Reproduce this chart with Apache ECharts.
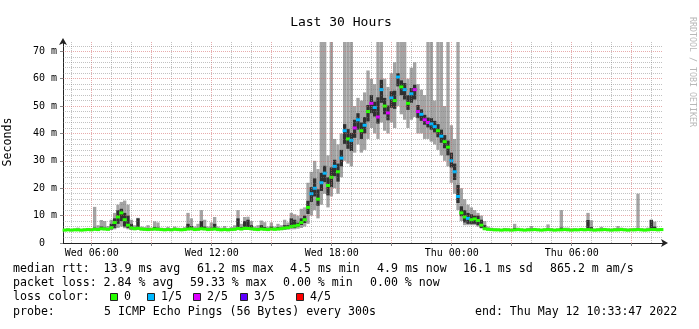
<!DOCTYPE html>
<html><head><meta charset="utf-8">
<script src="https://cdn.jsdelivr.net/npm/echarts@6/dist/echarts.min.js"></script>
<style>html,body{margin:0;padding:0;background:#fff}#c{width:699px;height:329px}</style>
</head><body><div id="c"></div>
<script>
// time in hours since Wed 00:00; graph ends Thu 10:33:47 (= 34.563 h), spans 30 h
const START_H = 4 + 33 / 60 + 47 / 3600;
const SPAN_H = 30;
const BIN_H = 1 / 6; // 10-minute bins

// median rtt per bin (ms)
const median = [
 4.7,4.8,4.7,4.8,4.8,4.7,4.8,4.9,4.8,5.0,
 4.9,5.2,5.1,5.0,5.6,7.5,9.5,11.0,8.5,6.5,
 5.5,5.2,5.4,5.1,5.0,4.9,5.0,5.1,5.0,4.9,
 4.8,4.9,4.8,5.0,4.9,4.8,4.9,5.1,5.2,4.9,
 5.0,5.2,5.1,4.9,5.0,5.1,4.9,4.8,4.9,4.8,
 4.9,5.0,5.3,5.1,5.4,5.3,5.2,5.0,4.9,5.1,
 5.0,4.9,5.1,5.0,5.1,5.2,5.5,5.6,6.0,6.2,
 6.5,7.5,8.5,13.0,18.0,20.0,16.0,22.0,25.5,21.0,
 24.0,28.0,26.0,31.0,41.0,38.0,37.5,42.0,45.0,41.0,
 43.0,48.0,51.0,49.5,46.0,56.0,50.0,47.5,53.0,52.0,
 60.6,57.0,56.0,51.0,54.5,56.0,48.0,47.0,45.0,44.0,
 43.5,42.5,41.0,39.0,37.0,35.0,30.0,26.0,17.0,11.0,
 9.5,9.0,8.5,8.8,8.2,6.5,5.2,5.0,4.9,4.8,
 4.8,4.7,4.8,4.8,4.7,4.8,4.9,4.8,4.7,4.8,
 4.8,4.9,4.8,4.7,4.8,4.9,4.8,4.7,4.8,4.8,
 4.9,4.8,4.7,4.8,4.8,4.9,4.8,4.9,4.8,4.7,
 4.8,4.8,4.9,4.8,4.7,4.8,4.8,4.9,4.8,4.7,
 4.8,4.8,4.9,4.8,4.7,4.8,4.9,4.9,4.8,4.9
];
// outer smoke (min / max ping, ms); 80 = beyond the top of the graph
const smokeMin = [
 4.5,4.5,4.5,4.6,4.5,4.5,4.6,4.6,4.5,4.6,
 4.6,4.7,4.7,4.6,4.8,5.0,5.5,6.0,5.4,5.0,
 4.8,4.7,4.8,4.6,4.6,4.5,4.6,4.6,4.6,4.5,
 4.5,4.6,4.5,4.6,4.6,4.5,4.6,4.7,4.7,4.6,
 4.6,4.7,4.7,4.6,4.6,4.7,4.6,4.5,4.6,4.5,
 4.6,4.6,4.7,4.7,4.8,4.8,4.7,4.6,4.6,4.7,
 4.6,4.6,4.7,4.6,4.7,4.7,4.8,4.9,5.0,5.0,
 5.2,5.5,6.0,7.0,10.0,12.0,9.0,14.0,18.0,13.0,
 17.0,20.0,18.0,24.0,30.0,29.0,28.0,33.0,36.0,33.0,
 34.0,38.0,42.0,40.0,38.0,44.0,41.0,40.0,44.0,42.0,
 50.0,47.0,45.0,42.0,45.0,46.0,40.0,40.0,38.0,38.0,
 37.0,36.0,34.0,32.0,30.0,28.0,22.0,18.0,12.0,8.0,
 6.5,6.5,6.5,6.5,6.0,5.3,4.8,4.6,4.6,4.5,
 4.5,4.5,4.5,4.6,4.5,4.5,4.6,4.5,4.5,4.5,
 4.5,4.6,4.5,4.5,4.5,4.6,4.5,4.5,4.5,4.5,
 4.6,4.5,4.5,4.5,4.5,4.6,4.5,4.6,4.5,4.5,
 4.5,4.5,4.6,4.5,4.5,4.5,4.5,4.6,4.5,4.5,
 4.5,4.5,4.6,4.5,4.5,4.5,4.6,4.6,4.5,4.6
];
const smokeMax = [
 5.2,5.4,5.1,5.3,5.6,5.2,5.3,5.5,5.4,13.2,
 6.5,8.4,8.0,6.2,8.5,11.0,14.0,15.0,15.5,14.0,
 8.5,6.5,9.2,6.0,5.8,6.5,5.6,7.9,7.5,5.6,
 5.5,5.9,5.4,6.0,5.6,5.5,5.8,11.0,9.0,6.0,
 7.0,12.0,8.5,6.0,7.5,9.5,6.0,5.6,6.2,5.5,
 5.8,6.5,12.0,7.0,9.5,9.6,8.0,6.0,6.5,8.2,
 7.6,6.0,7.5,6.0,7.0,6.5,8.5,7.5,11.0,10.5,
 10.0,12.5,13.0,22.0,26.0,30.0,27.0,80,80,32.0,
 80,38.0,36.0,40.0,80,80,80,50.0,53.0,52.0,
 55.0,63.0,60.0,58.0,80,80,60.0,57.0,62.0,66.0,
 80,80,80,60.0,64.0,66.0,58.0,56.0,54.0,80,
 80,52.0,80,80,50.0,80,43.0,38.0,80,20.0,
 16.0,14.0,13.0,12.0,11.0,10.0,8.0,6.0,5.6,5.4,
 5.3,5.2,5.5,5.4,5.2,7.0,5.6,5.3,5.2,5.5,
 6.2,5.5,5.3,5.2,5.4,6.8,5.4,5.2,5.3,12.0,
 5.6,5.6,5.3,5.4,5.2,5.5,5.4,11.0,8.3,5.3,
 5.4,5.9,5.5,5.3,5.2,5.5,6.2,5.6,5.4,5.3,
 5.3,5.5,18.0,5.4,5.3,5.6,8.6,7.8,5.5,5.4
];
// inner (dense) smoke, ms
const coreLow = [
 4.6,4.6,4.6,4.7,4.6,4.6,4.7,4.7,4.6,4.8,
 4.7,4.9,4.8,4.8,5.0,5.5,7.0,8.0,6.0,5.5,
 5.0,4.9,5.0,4.8,4.7,4.7,4.8,4.8,4.8,4.7,
 4.6,4.7,4.6,4.8,4.7,4.6,4.7,4.8,4.9,4.7,
 4.8,4.9,4.8,4.7,4.8,4.8,4.7,4.6,4.7,4.6,
 4.7,4.8,4.9,4.8,5.0,5.0,4.9,4.8,4.7,4.8,
 4.8,4.7,4.8,4.8,4.8,4.9,5.0,5.1,5.5,5.5,
 6.0,6.6,7.3,10.6,15.0,17.0,13.6,19.0,22.2,17.4,
 20.4,24.4,22.4,28.0,36.2,34.4,33.6,38.4,41.4,38.0,
 40.0,44.4,47.4,46.2,43.6,51.2,47.0,44.8,49.4,49.0,
 57.2,54.0,52.4,48.6,51.2,52.4,45.6,44.6,43.2,42.2,
 41.4,40.4,38.6,36.6,34.6,32.0,27.6,23.0,14.6,9.8,
 7.5,7.0,7.0,7.0,6.5,5.5,5.0,4.7,4.7,4.6,
 4.6,4.6,4.6,4.7,4.6,4.6,4.7,4.6,4.6,4.6,
 4.6,4.7,4.6,4.6,4.6,4.7,4.6,4.6,4.6,4.7,
 4.7,4.6,4.6,4.6,4.6,4.7,4.6,4.7,4.6,4.6,
 4.6,4.6,4.7,4.6,4.6,4.6,4.6,4.7,4.6,4.6,
 4.6,4.6,4.7,4.6,4.6,4.6,4.7,4.7,4.6,4.7
];
const coreHigh = [
 4.9,5.0,4.9,5.0,5.1,4.9,5.0,5.1,5.0,5.6,
 5.2,6.0,5.6,5.3,7.0,9.0,12.0,12.5,11.0,10.0,
 7.0,5.6,9.0,5.4,5.2,5.4,5.2,5.8,5.6,5.1,
 5.0,5.1,5.0,5.3,5.1,5.0,5.1,7.0,6.2,5.2,
 5.5,8.0,6.0,5.2,5.6,7.0,5.2,5.0,5.2,5.0,
 5.1,5.4,9.0,5.8,8.0,8.5,6.5,5.3,5.4,6.5,
 5.8,5.2,6.0,5.3,5.8,5.6,6.5,6.5,9.0,8.5,
 7.4,9.0,10.0,15.4,20.4,23.6,19.6,25.6,28.2,24.0,
 27.6,30.4,29.0,34.0,43.4,41.6,40.2,45.0,47.4,44.0,
 46.0,50.4,54.0,51.6,53.2,59.6,53.0,50.2,55.4,55.6,
 62.0,59.4,58.4,54.0,56.6,57.8,50.4,48.8,46.8,45.8,
 45.6,44.6,43.4,41.4,39.4,37.4,33.0,29.0,21.2,13.4,
 12.0,11.0,10.5,10.0,10.0,8.5,6.5,5.3,5.1,5.0,
 5.0,4.9,5.0,5.0,4.9,5.5,5.1,5.0,4.9,5.0,
 5.2,5.1,5.0,4.9,5.0,5.3,5.0,4.9,5.0,5.6,
 5.0,5.0,4.9,5.0,4.9,5.1,5.0,8.4,5.8,4.9,
 5.0,5.2,5.1,5.0,4.9,5.0,5.2,5.1,5.0,4.9,
 5.0,5.1,5.3,5.0,4.9,5.1,8.4,6.0,5.0,5.1
];
// lost pings per bin (out of 5)
const lostPings = [
 0,0,0,0,0,0,0,0,0,0,
 0,0,0,0,0,0,0,0,0,0,
 0,0,0,0,0,0,0,0,0,0,
 0,0,0,0,0,0,0,0,0,0,
 0,0,0,0,0,0,0,0,0,0,
 0,0,0,0,0,0,0,0,0,0,
 0,0,0,0,0,0,0,0,0,0,
 0,0,0,0,1,1,0,1,1,0,
 0,1,0,1,1,0,1,2,1,0,
 1,0,2,1,2,1,0,2,1,0,
 1,0,1,0,1,2,2,1,2,2,
 1,1,0,1,0,0,1,1,1,0,
 0,1,0,0,0,0,0,0,0,0,
 0,0,0,0,0,0,0,0,0,0,
 0,0,0,0,0,0,0,0,0,0,
 0,0,0,0,0,0,0,0,0,0,
 0,0,0,0,0,0,0,0,0,0,
 0,0,0,0,0,0,0,0,0,0
];
const lossColors = ['#26ff00', '#00b8ff', '#dd00ff', '#5e00ff', '#ff0000'];
const lossLabels = ['0', '1/5', '2/5', '3/5', '4/5'];

const xTickHours = [6, 12, 18, 24, 30];
const xTickLabels = ['Wed 06:00', 'Wed 12:00', 'Wed 18:00', 'Thu 00:00', 'Thu 06:00'];
const xMajorHours = [6, 9, 12, 15, 18, 21, 24, 27, 30, 33];
const xMinorHours = [5, 7, 8, 10, 11, 13, 14, 16, 17, 19, 20, 22, 23, 25, 26, 28, 29, 31, 32, 34];
const yTicks = [0, 10, 20, 30, 40, 50, 60, 70];
const yMinor = [2, 4, 6, 8, 12, 14, 16, 18, 22, 24, 26, 28, 32, 34, 36, 38, 42, 44, 46, 48, 52, 54, 56, 58, 62, 64, 66, 68, 72];
const Y_MAX = 73.4;

const title = 'Last 30 Hours';
const yName = 'Seconds';
const statsRtt = [['median rtt:  13.9 ms avg', 13], ['61.2 ms max', 197], ['4.5 ms min', 290], ['4.9 ms now', 377], ['16.1 ms sd', 463], ['865.2 m am/s', 550]];
const statsLoss = [['packet loss: 2.84 % avg', 13], ['59.33 % max', 190], ['0.00 % min', 283], ['0.00 % now', 370]];
const lossRowLabel = 'loss color:';
const probeLabel = 'probe:';
const probeText = '5 ICMP Echo Pings (56 Bytes) every 300s';
const endText = 'end: Thu May 12 10:33:47 2022';
const watermark = 'RRDTOOL / TOBI OETIKER';

const MONO = 'DejaVu Sans Mono';
const LEG_FONT = '11.58px "' + MONO + '"';
const binTime = i => START_H + (i + 0.5) * BIN_H;
const smokeOuter = smokeMin.map((v, i) => [binTime(i), v, smokeMax[i]]);
const smokeInner = coreLow.map((v, i) => [binTime(i), v, coreHigh[i]]);
const medianData = median.map((v, i) => [binTime(i), v, lostPings[i]]);

function bandRenderer(color) {
  return function (params, api) {
    const t = api.value(0), lo = api.value(1), hi = api.value(2);
    const p1 = api.coord([t - BIN_H / 2, hi]);
    const p2 = api.coord([t + BIN_H / 2, lo]);
    const cs = params.coordSys;
    const shape = echarts.graphic.clipRectByRect(
      { x: p1[0], y: p1[1], width: p2[0] - p1[0], height: p2[1] - p1[1] },
      { x: cs.x, y: cs.y, width: cs.width, height: cs.height });
    return shape ? { type: 'rect', shape: shape, style: { fill: color } } : null;
  };
}

const gridLines = [];
const minorStyle = { color: 'rgba(120,120,120,0.45)', type: 'dotted', width: 1 };
const majorStyle = { color: 'rgba(210,90,90,0.5)', type: 'dotted', width: 1 };
xMinorHours.forEach(h => gridLines.push({ xAxis: h, lineStyle: minorStyle }));
xMajorHours.forEach(h => gridLines.push({ xAxis: h, lineStyle: majorStyle }));
yMinor.forEach(v => gridLines.push({ yAxis: v, lineStyle: minorStyle }));
yTicks.filter(v => v > 0).forEach(v => gridLines.push({ yAxis: v, lineStyle: majorStyle }));

const texts = [];
function addText(str, x, y, opts) {
  texts.push(Object.assign({
    type: 'text', x: x, y: y, silent: true,
    style: Object.assign({ text: str, font: LEG_FONT, fill: '#000', textAlign: 'left', textVerticalAlign: 'middle' }, opts || {})
  }));
}
addText(title, 341, 23, { font: '13px "' + MONO + '"', textAlign: 'center' });
texts.push({ type: 'text', x: 8, y: 142, rotation: Math.PI / 2, silent: true,
  style: { text: yName, font: LEG_FONT, fill: '#000', textAlign: 'center', textVerticalAlign: 'middle' } });
texts.push({ type: 'text', x: 692, y: 72, rotation: -Math.PI / 2, silent: true,
  style: { text: watermark, font: '8.3px "' + MONO + '"', fill: '#b8b8b8', textAlign: 'center', textVerticalAlign: 'middle' } });
statsRtt.forEach(s => addText(s[0], s[1], 269));
statsLoss.forEach(s => addText(s[0], s[1], 283));
addText(lossRowLabel, 13, 297);
const boxX = [110, 147, 193, 240, 296];
lossLabels.forEach((l, i) => {
  texts.push({ type: 'rect', silent: true, shape: { x: boxX[i] + 0.5, y: 293.5, width: 7, height: 7 },
    style: { fill: lossColors[i], stroke: '#222', lineWidth: 1 } });
  addText(l, boxX[i] + 14, 297);
});
addText(probeLabel, 13, 311.5);
addText(probeText, 104, 311.5);
addText(endText, 475, 311.5);

const chart = echarts.init(document.getElementById('c'), null, { renderer: 'canvas' });
chart.setOption({
  animation: false,
  backgroundColor: '#fff',
  grid: { left: 63, right: 36, top: 42, bottom: 86, containLabel: false },
  xAxis: {
    type: 'value', min: START_H, max: START_H + SPAN_H,
    axisLine: { show: true, lineStyle: { color: '#222', width: 1 }, symbol: ['none', 'arrow'], symbolSize: [6, 7], symbolOffset: [0, 5] },
    axisTick: { show: true, customValues: xMajorHours, length: 3, lineStyle: { color: '#888' } },
    axisLabel: { customValues: xTickHours, formatter: v => xTickLabels[xTickHours.indexOf(Math.round(v))] || '',
      fontFamily: MONO, fontSize: 10, color: '#000', margin: 5 },
    splitLine: { show: false }
  },
  yAxis: {
    type: 'value', min: 0, max: Y_MAX,
    axisLine: { show: true, lineStyle: { color: '#222', width: 1 }, symbol: ['none', 'arrow'], symbolSize: [6, 7], symbolOffset: [0, 4] },
    axisTick: { show: true, customValues: yTicks, length: 3, lineStyle: { color: '#888' } },
    axisLabel: { customValues: yTicks, formatter: v => (v === 0 ? '0  ' : v + ' m'),
      fontFamily: MONO, fontSize: 10, color: '#000', margin: 6 },
    splitLine: { show: false }
  },
  graphic: texts,
  series: [
    { type: 'custom', name: 'smoke', data: smokeOuter, encode: { x: 0, y: [1, 2] }, renderItem: bandRenderer('#a4a4a4'), z: 2, silent: true },
    { type: 'custom', name: 'core', data: smokeInner, encode: { x: 0, y: [1, 2] }, renderItem: bandRenderer('#303030'), z: 3, silent: true },
    { type: 'custom', name: 'median', data: medianData, encode: { x: 0, y: 1 }, z: 4, silent: true,
      renderItem: function (params, api) {
        const t = api.value(0), m = api.value(1), l = api.value(2);
        const a = api.coord([t - BIN_H / 2, m]), b = api.coord([t + BIN_H / 2, m]);
        return { type: 'line', shape: { x1: a[0] - 0.4, y1: a[1], x2: b[0] + 0.4, y2: b[1] },
          style: { stroke: lossColors[l], lineWidth: 3 } };
      } },
    { type: 'custom', name: 'grid', data: [[START_H, 0]], renderItem: () => null, z: 5, silent: true,
      markLine: { silent: true, symbol: ['none', 'none'], label: { show: false }, animation: false, data: gridLines } }
  ]
});
</script>
</body></html>
